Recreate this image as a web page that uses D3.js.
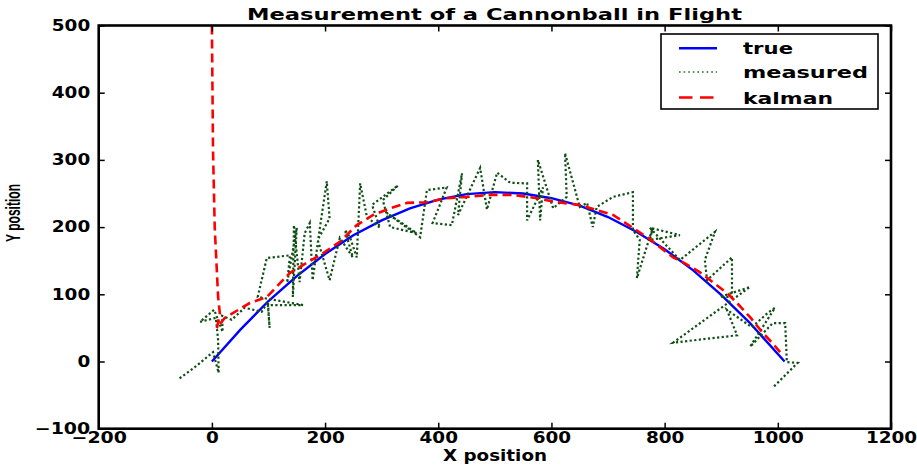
<!DOCTYPE html>
<html>
<head>
<meta charset="utf-8">
<script src="https://cdn.jsdelivr.net/npm/d3@7/dist/d3.min.js"></script>
<style>
  body { margin: 0; background: #fff; }
  svg { display: block; }
</style>
</head>
<body>
<svg id="chart" width="917" height="465"></svg>
<script>
// Trajectory of the cannonball: true path, noisy measurements, Kalman estimate
const trueX = [0, 50, 100, 150, 200, 250, 300, 350, 400, 450, 500, 550, 600, 650, 700, 750, 800, 850, 900, 950, 1012];
const trueY = [0, 47, 90, 127, 160, 188, 210, 228, 241, 249, 252, 250, 243, 232, 215, 193, 167, 136, 99, 58, 0];

const measuredX = [-57, -28, 2, 12, 11, 7, -21, 4, 19, 18, 35, 58, 88, 99, 102, 99, 161, 81, 97, 138,
  133, 150, 143, 145, 155, 164, 173, 178, 191, 203, 208, 187, 208, 226, 249, 235, 244, 256, 262, 274,
  297, 283, 329, 302, 315, 362, 309, 368, 376, 380, 415, 390, 424, 442, 435, 474, 486, 504, 527, 557,
  557, 585, 580, 576, 603, 627, 624, 650, 663, 673, 680, 709, 744, 744, 756, 751, 779, 774, 827, 774,
  827, 889, 871, 875, 919, 919, 898, 951, 815, 928, 910, 954, 982, 995, 951, 991, 1013, 1016, 1035, 991];
const measuredY = [-25, -7, 14, -17, 32, 65, 59, 77, 44, 68, 62, 80, 74, 89, 50, 84, 84, 96, 154, 158,
  117, 199, 96, 203, 118, 191, 206, 121, 200, 268, 213, 181, 121, 184, 155, 196, 185, 155, 265, 215,
  199, 233, 262, 240, 200, 191, 221, 185, 232, 255, 259, 206, 203, 280, 218, 288, 226, 281, 266, 265,
  210, 259, 210, 300, 228, 245, 310, 230, 236, 200, 230, 245, 252, 196, 181, 124, 199, 181, 188, 199,
  151, 193, 151, 121, 155, 96, 96, 111, 28, 39, 77, 51, 72, 80, 22, 57, 57, -1, -2, -39];

const kalmanX = [0, 2, 5, 11, 14, 9, 23, 67, 97, 138, 168, 196, 226, 256, 285, 315, 345, 380, 415, 451,
  491, 532, 574, 610, 650, 709, 769, 815, 832, 862, 885, 910, 928, 951, 974, 991, 1004];
const kalmanY = [500, 315, 200, 96, 72, 50, 65, 87, 96, 132, 147, 161, 178, 203, 218, 228, 236, 237, 243, 245,
  248, 248, 243, 237, 233, 218, 185, 155, 148, 133, 118, 102, 87, 66, 42, 27, 14];

const xTicks = [-200, 0, 200, 400, 600, 800, 1000, 1200];
const yTicks = [-100, 0, 100, 200, 300, 400, 500];
const seriesNames = ["true", "measured", "kalman"];
const titleText = "Measurement of a Cannonball in Flight";
const xLabel = "X position";
const yLabel = "Y position";

const svg = d3.select("#chart");
const plot = { left: 98.7, right: 891, top: 25.5, bottom: 428.7 };

const x = d3.scaleLinear().domain([-200, 1200]).range([plot.left, plot.right]);
const y = d3.scaleLinear().domain([-100, 500]).range([plot.bottom, plot.top]);

const tickFont = "DejaVu Sans, Verdana, sans-serif";
const fmt = d3.format("d");

// width of a tick label, used to widen the glyphs horizontally
function labelWidth(s) {
  let w = 0;
  for (const ch of s) w += (ch === "\u2212" || ch === "-") ? 17 : 12.8;
  return w;
}

// clip region for the series
svg.append("defs").append("clipPath").attr("id", "plot-clip")
  .append("rect")
  .attr("x", plot.left).attr("y", plot.top)
  .attr("width", plot.right - plot.left).attr("height", plot.bottom - plot.top);

// series
const line = d3.line().x(d => x(d[0])).y(d => y(d[1]));
const series = svg.append("g").attr("clip-path", "url(#plot-clip)");

series.append("path")
  .datum(trueX.map((v, i) => [v, trueY[i]]))
  .attr("d", line)
  .attr("fill", "none").attr("stroke", "#0000ff").attr("stroke-width", 2.4);

series.append("path")
  .datum(measuredX.map((v, i) => [v, measuredY[i]]))
  .attr("d", line)
  .attr("fill", "none").attr("stroke", "#0f4f14").attr("stroke-width", 2.2)
  .attr("stroke-dasharray", "2.2,2.4");

series.append("path")
  .datum(kalmanX.map((v, i) => [v, kalmanY[i]]))
  .attr("d", line)
  .attr("fill", "none").attr("stroke", "#ff0000").attr("stroke-width", 2.6)
  .attr("stroke-dasharray", "9,5");

// axes with inward ticks
function styleAxis(g) {
  g.select(".domain").remove();
  g.selectAll(".tick line").attr("stroke", "#000").attr("stroke-width", 1.5);
  g.selectAll(".tick text")
    .attr("fill", "#000")
    .attr("font-family", tickFont)
    .attr("font-weight", "bold")
    .attr("font-size", 15)
    .attr("lengthAdjust", "spacingAndGlyphs")
    .attr("textLength", function () { return labelWidth(this.textContent); });
}

svg.append("g")
  .attr("transform", `translate(0,${plot.bottom})`)
  .call(d3.axisBottom(x).tickValues(xTicks).tickFormat(fmt).tickSize(-6).tickSizeOuter(0).tickPadding(4))
  .call(styleAxis);

svg.append("g")
  .attr("transform", `translate(${plot.left},0)`)
  .call(d3.axisLeft(y).tickValues(yTicks).tickFormat(fmt).tickSize(-6).tickSizeOuter(0).tickPadding(8.5))
  .call(styleAxis);

svg.append("g")
  .attr("transform", `translate(0,${plot.top})`)
  .call(d3.axisTop(x).tickValues(xTicks).tickFormat("").tickSize(-6).tickSizeOuter(0))
  .call(styleAxis);

svg.append("g")
  .attr("transform", `translate(${plot.right},0)`)
  .call(d3.axisRight(y).tickValues(yTicks).tickFormat("").tickSize(-6).tickSizeOuter(0))
  .call(styleAxis);

// frame
svg.append("rect")
  .attr("x", plot.left).attr("y", plot.top)
  .attr("width", plot.right - plot.left).attr("height", plot.bottom - plot.top)
  .attr("fill", "none").attr("stroke", "#000").attr("stroke-width", 2.6);

// title and axis labels
svg.append("text")
  .attr("x", 494.5).attr("y", 20)
  .attr("text-anchor", "middle")
  .attr("font-family", tickFont).attr("font-weight", "bold").attr("font-size", 15)
  .attr("textLength", 495).attr("lengthAdjust", "spacingAndGlyphs")
  .text(titleText);

svg.append("text")
  .attr("x", 495).attr("y", 461)
  .attr("text-anchor", "middle")
  .attr("font-family", tickFont).attr("font-weight", "bold").attr("font-size", 15)
  .attr("textLength", 104).attr("lengthAdjust", "spacingAndGlyphs")
  .text(xLabel);

svg.append("text")
  .attr("transform", "translate(20,213) rotate(-90)")
  .attr("text-anchor", "middle")
  .attr("font-family", "'Liberation Sans Narrow', 'Liberation Sans', Arial, sans-serif")
  .attr("font-weight", "bold").attr("font-size", 20)
  .attr("textLength", 58).attr("lengthAdjust", "spacingAndGlyphs")
  .text(yLabel);

// legend
const legend = svg.append("g");
legend.append("rect")
  .attr("x", 661).attr("y", 34).attr("width", 217).attr("height", 75)
  .attr("fill", "#fff").attr("stroke", "#000").attr("stroke-width", 1.6);

const legendStyles = [
  { color: "#0000ff", width: 2.4, dash: null, textW: 50 },
  { color: "#2a6a2a", width: 1.6, dash: "1.6,3", textW: 125 },
  { color: "#ff0000", width: 2.6, dash: "13.5,7.5", textW: 90 }
];
const rowY = [48.3, 72, 97.5];

seriesNames.forEach((name, i) => {
  const s = legendStyles[i];
  legend.append("line")
    .attr("x1", 679).attr("x2", 717).attr("y1", rowY[i]).attr("y2", rowY[i])
    .attr("stroke", s.color).attr("stroke-width", s.width)
    .attr("stroke-dasharray", s.dash);
  legend.append("text")
    .attr("x", 743).attr("y", rowY[i] + 6)
    .attr("font-family", tickFont).attr("font-weight", "bold").attr("font-size", 16.5)
    .attr("textLength", s.textW).attr("lengthAdjust", "spacingAndGlyphs")
    .text(name);
});
</script>
</body>
</html>
